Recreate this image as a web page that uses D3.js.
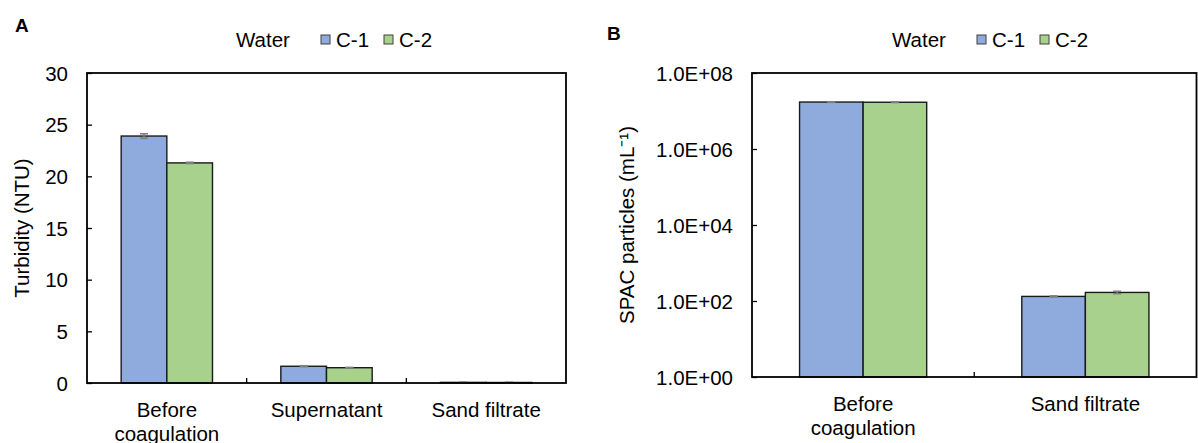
<!DOCTYPE html>
<html>
<head>
<meta charset="utf-8">
<script src="https://cdn.jsdelivr.net/npm/d3@7/dist/d3.min.js"></script>
<style>
  html, body { margin: 0; padding: 0; background: #fff; }
  svg text { font-family: "Liberation Sans", Arial, sans-serif; fill: #000; }
</style>
</head>
<body>
<svg id="chart" width="1198" height="443"></svg>
<script>
// ---------- DATA ----------
const seriesNames = ["C-1", "C-2"];
const legendTitle = "Water";

const categoriesA = ["Before coagulation", "Supernatant", "Sand filtrate"];
const turbidityC1 = [23.9, 1.62, 0.06];
const turbidityC2 = [21.3, 1.48, 0.05];
const turbidityErrC1 = [0.22, 0.05, 0.01];
const turbidityErrC2 = [0.06, 0.03, 0.01];
const ticksA = [0, 5, 10, 15, 20, 25, 30];

const categoriesB = ["Before coagulation", "Sand filtrate"];
const spacC1 = [1.72e7, 132];
const spacC2 = [1.70e7, 168];
const spacErrC1 = [3e5, 4];
const spacErrC2 = [3e5, 12];
const ticksB = [1, 1e2, 1e4, 1e6, 1e8];

// ---------- STYLE ----------
const colors = ["#8faadc", "#a9d18e"];
const FONT = 20.5;
const svg = d3.select("#chart");

function wrapLabel(sel) {
  sel.each(function(d) {
    const t = d3.select(this);
    const words = d === "Before coagulation" ? ["Before", "coagulation"] : [d];
    t.text(null);
    words.forEach((w, i) => t.append("tspan").attr("x", 0).attr("dy", i === 0 ? 0 : 24).text(w));
  });
}

function drawPanel(opt) {
  const { left, right, top, bottom, cats, s1, s2, e1, e2, y, ticks, fmt, yTitle, titleX, panelLabel, labelPos, legendX } = opt;
  const g = svg.append("g");
  const x0 = d3.scaleBand().domain(cats).range([left, right]).paddingInner(0).paddingOuter(0);
  const bandPad = (1 - 0.572) / 2;
  const x1 = d3.scaleBand().domain(seriesNames).range([x0.bandwidth() * bandPad, x0.bandwidth() * (1 - bandPad)]);

  // bars
  const data = [];
  cats.forEach((c, i) => {
    data.push({ c, s: 0, v: s1[i], e: e1[i] });
    data.push({ c, s: 1, v: s2[i], e: e2[i] });
  });
  const y0 = y.range()[0];
  g.selectAll("rect.bar").data(data).join("rect")
    .attr("class", "bar")
    .attr("x", d => x0(d.c) + x1(seriesNames[d.s]))
    .attr("width", x1.bandwidth())
    .attr("y", d => y(d.v))
    .attr("height", d => y0 - y(d.v))
    .attr("fill", d => colors[d.s])
    .attr("stroke", "#1a1a1a")
    .attr("stroke-width", 1.4);

  // error bars
  const eg = g.selectAll("g.err").data(data).join("g").attr("class", "err")
    .attr("stroke", "#7f7f7f").attr("stroke-width", 1.6);
  eg.append("line")
    .attr("x1", d => x0(d.c) + x1(seriesNames[d.s]) + x1.bandwidth() / 2)
    .attr("x2", d => x0(d.c) + x1(seriesNames[d.s]) + x1.bandwidth() / 2)
    .attr("y1", d => y(d.v + d.e)).attr("y2", d => y(Math.max(d.v - d.e, y.domain()[0])));
  ["+", "-"].forEach(sg => {
    eg.append("line")
      .attr("x1", d => x0(d.c) + x1(seriesNames[d.s]) + x1.bandwidth() / 2 - 4)
      .attr("x2", d => x0(d.c) + x1(seriesNames[d.s]) + x1.bandwidth() / 2 + 4)
      .attr("y1", d => y(sg === "+" ? d.v + d.e : Math.max(d.v - d.e, y.domain()[0])))
      .attr("y2", d => y(sg === "+" ? d.v + d.e : Math.max(d.v - d.e, y.domain()[0])));
  });

  // frame
  g.append("rect").attr("x", left).attr("y", top).attr("width", right - left).attr("height", bottom - top)
    .attr("fill", "none").attr("stroke", "#000").attr("stroke-width", 1.8);

  // y axis
  const ya = d3.axisRight(y).tickValues(ticks).tickSize(5).tickFormat(fmt);
  const yg = g.append("g").attr("transform", `translate(${left},0)`).call(ya);
  yg.select(".domain").remove();
  yg.selectAll(".tick line").attr("stroke", "#000").attr("stroke-width", 1.3);
  yg.selectAll(".tick text").attr("x", -19).attr("text-anchor", "end").attr("dy", "0.35em")
    .style("font-size", FONT + "px").attr("fill", "#000");

  // x ticks between categories (inward)
  const bounds = cats.slice(1).map(c => x0(c));
  g.selectAll("line.xt").data(bounds).join("line").attr("class", "xt")
    .attr("x1", d => d).attr("x2", d => d).attr("y1", bottom).attr("y2", bottom - 5)
    .attr("stroke", "#000").attr("stroke-width", 1.3);

  // x labels
  const xa = d3.axisBottom(x0).tickSize(0);
  const xg = g.append("g").attr("transform", `translate(0,${bottom})`).call(xa);
  xg.select(".domain").remove();
  xg.selectAll(".tick text").attr("y", 33.5).attr("dy", 0).style("font-size", FONT + "px")
    .attr("fill", "#000").call(wrapLabel);

  // y title
  g.append("text").attr("transform", `translate(${titleX},${(top + bottom) / 2}) rotate(-90)`)
    .attr("text-anchor", "middle").attr("dy", "0.35em").style("font-size", FONT + "px").text(yTitle);

  // panel label
  g.append("text").attr("x", labelPos[0]).attr("y", labelPos[1]).style("font-size", "19px")
    .style("font-weight", "bold").text(panelLabel);

  // legend
  const lg = g.append("g").attr("transform", `translate(${legendX},47)`);
  lg.append("text").attr("x", 0).attr("y", 0).style("font-size", FONT + "px").text(legendTitle);
  const offs = [85, 148];
  seriesNames.forEach((s, i) => {
    lg.append("rect").attr("x", offs[i]).attr("y", -12).attr("width", 9).attr("height", 9)
      .attr("fill", colors[i]).attr("stroke", "#404040").attr("stroke-width", 1);
    lg.append("text").attr("x", offs[i] + 15).attr("y", 0).style("font-size", FONT + "px").text(s);
  });
}

// Panel A
drawPanel({
  left: 87, right: 566, top: 73, bottom: 383,
  cats: categoriesA, s1: turbidityC1, s2: turbidityC2, e1: turbidityErrC1, e2: turbidityErrC2,
  y: d3.scaleLinear().domain([0, 30]).range([383, 73]),
  ticks: ticksA, fmt: d3.format("d"),
  yTitle: "Turbidity (NTU)", titleX: 22,
  panelLabel: "A", labelPos: [15, 32], legendX: 236
});

// Panel B
drawPanel({
  left: 752, right: 1196.5, top: 73, bottom: 377,
  cats: categoriesB, s1: spacC1, s2: spacC2, e1: spacErrC1, e2: spacErrC2,
  y: d3.scaleLog().domain([1, 1e8]).range([377, 73]),
  ticks: ticksB, fmt: d => "1.0E+" + String(Math.round(Math.log10(d))).padStart(2, "0"),
  yTitle: "SPAC particles (mL\u207B\u00B9)", titleX: 627,
  panelLabel: "B", labelPos: [607, 40], legendX: 892
});
</script>
</body>
</html>
